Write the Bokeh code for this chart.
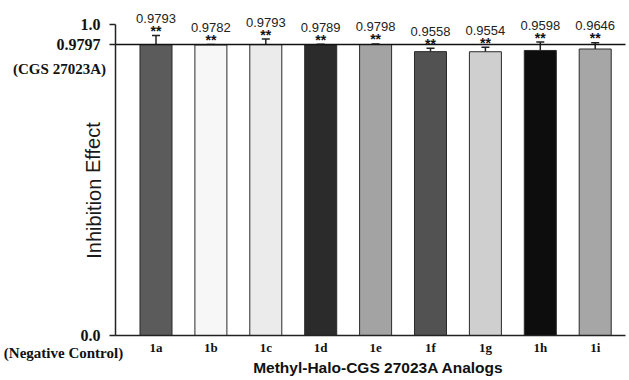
from bokeh.plotting import figure
from bokeh.models import (Range1d, FixedTicker, Whisker, TeeHead,
                          ColumnDataSource, Label)
from bokeh.embed import file_html
from bokeh.resources import INLINE

# ---------------- data ----------------
categories = ["1a", "1b", "1c", "1d", "1e", "1f", "1g", "1h", "1i"]
values = [0.9793, 0.9782, 0.9793, 0.9789, 0.9798, 0.9558, 0.9554, 0.9598, 0.9646]
errors = [0.031, 0.002, 0.019, 0.002, 0.002, 0.011, 0.015, 0.028, 0.021]
value_labels = ["0.9793", "0.9782", "0.9793", "0.9789", "0.9798",
                "0.9558", "0.9554", "0.9598", "0.9646"]
signif = ["**"] * 9
bar_colors = ["#5b5b5b", "#f7f7f7", "#ebebeb", "#2b2b2b", "#a3a3a3",
              "#525252", "#cfcfcf", "#0d0d0d", "#a6a6a6"]
control_value = 0.9797
control_label = "0.9797"
control_name = "(CGS 27023A)"
negative_label = "0.0"
negative_name = "(Negative Control)"
top_label = "1.0"
y_title = "Inhibition Effect"
x_title = "Methyl-Halo-CGS 27023A Analogs"

# ---------------- layout (pixel geometry of the canvas) ----------------
W, H = 628, 379
AXIS_X, AXIS_END, BASE_Y, AXIS_TOP = 115, 625, 335, 24
px_per_y = 297.0
px_per_x = 54.9
first_center = 155.5


def x_at(px):
    return (px - first_center) / px_per_x


def y_at(py):
    return (BASE_Y - py) / px_per_y


y_top = y_at(AXIS_TOP)

xs = list(range(len(categories)))
uppers = [v + e for v, e in zip(values, errors)]
src = ColumnDataSource(dict(
    x=xs, value=values, upper=uppers, color=bar_colors,
    lab=value_labels, star=signif,
    star_y=[u + 4.5 / px_per_y for u in uppers],
    lab_y=[u + 17.0 / px_per_y for u in uppers],
))

p = figure(width=W, height=H,
           x_range=Range1d(x_at(0), x_at(W)), y_range=Range1d(y_at(H), y_at(0)),
           output_backend="svg", toolbar_location=None,
           min_border_left=0, min_border_right=0, min_border_top=0,
           min_border_bottom=0)
p.outline_line_color = None
p.grid.visible = False
p.background_fill_color = "white"

p.vbar(x="x", top="value", width=0.583, bottom=0, source=src,
       fill_color="color", line_color="#2a2a2a", line_width=1)

# reference line of the positive control, from the y axis to the end of the x axis
p.segment(x0=[x_at(AXIS_X)], x1=[x_at(AXIS_END)], y0=[control_value],
          y1=[control_value], line_color="#111111", line_width=1.5)

p.add_layout(Whisker(source=src, base="x", upper="upper", lower="value",
                     dimension="height", line_color="#222222", line_width=1.5,
                     upper_head=TeeHead(size=8, line_color="#222222", line_width=1.5),
                     lower_head=None))

p.text(x="x", y="star_y", text="star", source=src,
       text_align="center", text_baseline="middle",
       text_font={"value": "Liberation Sans"}, text_font_style="bold",
       text_font_size="14px", text_color="#111111")
p.text(x="x", y="lab_y", text="lab", source=src,
       text_align="center", text_baseline="middle",
       text_font={"value": "Liberation Sans"},
       text_font_size="13px", text_color="#222222")

# y axis
ya = p.yaxis[0]
ya.fixed_location = x_at(AXIS_X)
ya.bounds = (0, y_top)
ya.ticker = FixedTicker(ticks=[0, control_value, y_top])
ya.major_label_overrides = {0: negative_label, control_value: control_label,
                            y_top: top_label}
ya.major_tick_in = 0
ya.major_tick_out = 6
ya.minor_tick_line_color = None
ya.major_label_standoff = 9
ya.axis_line_width = 1.5
ya.axis_line_color = "#222222"
ya.major_tick_line_color = "#222222"
ya.major_tick_line_width = 1.5
ya.major_label_text_font = "Liberation Serif"
ya.major_label_text_font_style = "bold"
ya.major_label_text_font_size = "16px"
ya.major_label_text_color = "#111111"

# x axis
xa = p.xaxis[0]
xa.fixed_location = 0
xa.bounds = (x_at(AXIS_X), x_at(AXIS_END))
xa.ticker = FixedTicker(ticks=xs)
xa.major_label_overrides = {i: c for i, c in zip(xs, categories)}
xa.major_tick_in = 0
xa.major_tick_out = 0
xa.minor_tick_line_color = None
xa.major_label_standoff = 4
xa.axis_line_width = 1.5
xa.axis_line_color = "#222222"
xa.major_label_text_font = "Liberation Serif"
xa.major_label_text_font_style = "bold"
xa.major_label_text_font_size = "13px"
xa.major_label_text_color = "#111111"


def add_label(px, py, text, **kw):
    base = dict(x=x_at(px), y=y_at(py), text=text,
                text_align="center", text_baseline="middle", text_color="#111111")
    base.update(kw)
    p.add_layout(Label(**base))


add_label(59, 68, control_name, text_font="Liberation Serif",
          text_font_style="bold", text_font_size="15px")
add_label(63, 352, negative_name, text_font="Liberation Serif",
          text_font_style="bold", text_font_size="15px")
add_label(93, 190, y_title, angle=1.5708, text_font="Liberation Sans",
          text_font_size="20px", text_color="#1a1a1a")
add_label(378, 367, x_title, text_font="Liberation Sans",
          text_font_style="bold", text_font_size="15.5px")

open("out.html", "w").write(file_html(p, INLINE))
